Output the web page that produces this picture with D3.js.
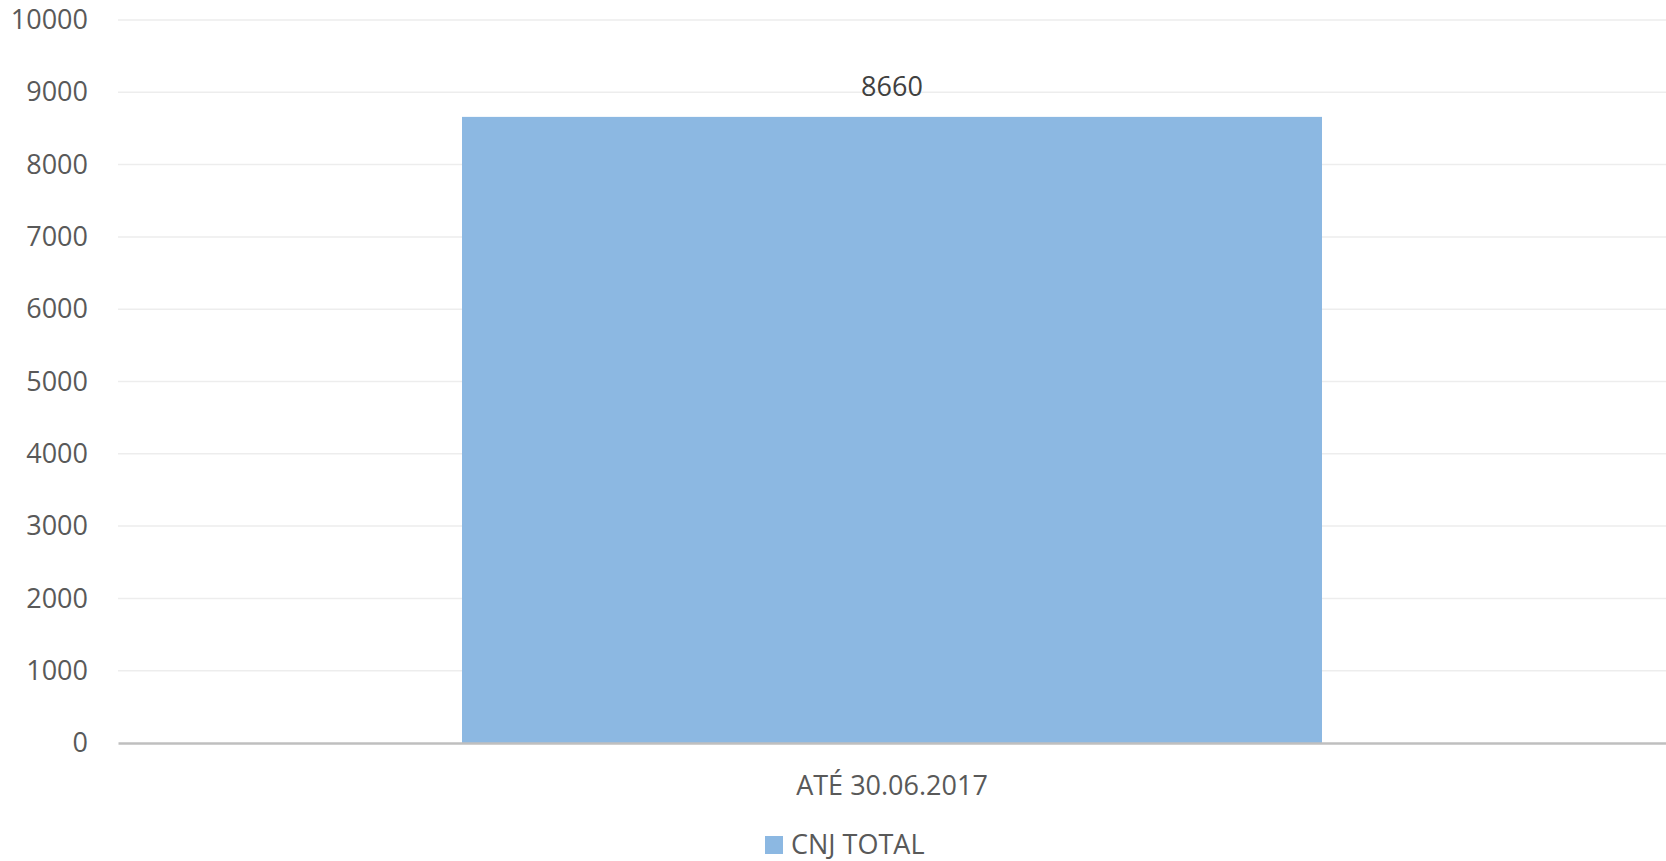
<!DOCTYPE html>
<html>
<head>
<meta charset="utf-8">
<script src="https://cdn.jsdelivr.net/npm/d3@7"></script>
<style>
  body { margin: 0; background: #fff; }
  text { font-family: "Open Sans", sans-serif; }
</style>
</head>
<body>
<script>
// chart data
var categories = ["ATÉ 30.06.2017"];
var values = [8660];
var seriesName = "CNJ TOTAL";
var yTicks = [0, 1000, 2000, 3000, 4000, 5000, 6000, 7000, 8000, 9000, 10000];

var width = 1666, height = 861;
var margin = {top: 20, right: 0, bottom: 118, left: 118};

var svg = d3.select("body").append("svg")
    .attr("width", width)
    .attr("height", height);

var x = d3.scaleBand()
    .domain(categories)
    .range([margin.left, width - margin.right])
    .paddingInner(0)
    .paddingOuter(0.4);

var y = d3.scaleLinear()
    .domain([0, 10000])
    .range([height - margin.bottom, margin.top]);

//gridlines
svg.append("g")
    .selectAll("line")
    .data(yTicks.slice(1))
    .enter()
    .append("line")
    .attr("x1", margin.left)
    .attr("x2", width - margin.right)
    .attr("y1", function(d) { return y(d); })
    .attr("y2", function(d) { return y(d); })
    .attr("stroke", "#ededed")
    .attr("stroke-width", 1.5);

//y tick labels
var yAxis = svg.append("g")
    .attr("transform", "translate(" + margin.left + ",0)")
    .call(d3.axisLeft(y).tickValues(yTicks).tickFormat(d3.format("d")).tickSize(0).tickPadding(30));
yAxis.select(".domain").remove();
yAxis.selectAll("text")
    .attr("font-family", "Open Sans")
    .attr("font-size", 27)
    .attr("fill", "#595959");

//bars
svg.append("g")
    .selectAll("rect")
    .data(values)
    .enter()
    .append("rect")
    .attr("x", function(d, i) { return x(categories[i]); })
    .attr("width", x.bandwidth())
    .attr("y", function(d) { return y(d); })
    .attr("height", function(d) { return y(0) - y(d); })
    .attr("fill", "#8cb8e2");

//value labels
svg.append("g")
    .selectAll("text")
    .data(values)
    .enter()
    .append("text")
    .attr("x", function(d, i) { return x(categories[i]) + x.bandwidth() / 2; })
    .attr("y", function(d) { return y(d) - 21; })
    .attr("text-anchor", "middle")
    .attr("font-size", 27)
    .attr("fill", "#404040")
    .text(function(d) { return d; });

//x axis
var xAxis = svg.append("g")
    .attr("transform", "translate(0," + y(0) + ")")
    .call(d3.axisBottom(x).tickSize(0).tickPadding(33));
xAxis.select(".domain")
    .attr("stroke", "#bfbfbf")
    .attr("stroke-width", 2.5);
xAxis.selectAll("text")
    .attr("font-family", "Open Sans")
    .attr("font-size", 27)
    .attr("fill", "#595959");

//legend
var legend = svg.append("g");
legend.append("rect")
    .attr("x", 765)
    .attr("y", 836)
    .attr("width", 18)
    .attr("height", 18)
    .attr("fill", "#8cb8e2");
legend.append("text")
    .attr("x", 791)
    .attr("y", 854)
    .attr("font-size", 27)
    .attr("fill", "#595959")
    .text(seriesName);
</script>
</body>
</html>
